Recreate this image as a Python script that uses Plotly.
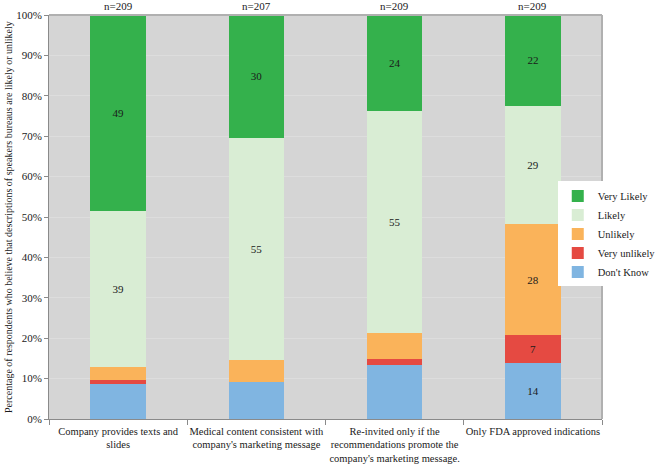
import plotly.graph_objects as go

categories = [
    "Company provides texts and<br>slides",
    "Medical content consistent with<br>company's marketing message",
    "Re-invited only if the<br>recommendations promote the<br>company's marketing message.",
    "Only FDA approved indications",
]
n_labels = ["n=209", "n=207", "n=209", "n=209"]

dont_know = [8.6, 9.2, 13.4, 13.9]
very_unlikely = [1.0, 0.0, 1.5, 6.8]
unlikely = [3.3, 5.4, 6.3, 27.6]
likely = [38.7, 55.0, 55.0, 29.3]
very_likely = [48.4, 30.4, 23.8, 22.4]

dont_know_txt = ["", "", "", "14"]
very_unlikely_txt = ["", "", "", "7"]
unlikely_txt = ["", "", "", "28"]
likely_txt = ["39", "55", "55", "29"]
very_likely_txt = ["49", "30", "24", "22"]

y_title = "Percentage of respondents who believe that descriptions of speakers bureaus are likely or unlikely"

series = [
    ("Don't Know", dont_know, dont_know_txt, "#80b5e1"),
    ("Very unlikely", very_unlikely, very_unlikely_txt, "#e54a42"),
    ("Unlikely", unlikely, unlikely_txt, "#fab35a"),
    ("Likely", likely, likely_txt, "#d9edd4"),
    ("Very Likely", very_likely, very_likely_txt, "#34b14c"),
]

FONT = "Liberation Serif"
TXT = "#1a1a1a"

fig = go.Figure()
for name, vals, txt, col in series:
    fig.add_trace(go.Bar(
        x=categories, y=vals, name=name, text=txt,
        textposition="inside", insidetextanchor="middle",
        textfont=dict(family=FONT, size=11, color=TXT),
        marker=dict(color=col, line=dict(width=0)),
        width=0.4,
        hoverinfo="skip",
    ))

for c, n in zip(categories, n_labels):
    fig.add_annotation(x=c, y=100, text=n, showarrow=False, yanchor="bottom",
                       yshift=1, font=dict(family=FONT, size=11, color=TXT))

fig.add_annotation(xref="paper", yref="paper", x=0, y=0.5, xshift=-41,
                   text=y_title, textangle=-90, showarrow=False,
                   xanchor="center", yanchor="middle",
                   font=dict(family=FONT, size=10, color=TXT))

fig.update_layout(
    width=657, height=465,
    barmode="stack",
    plot_bgcolor="#d5d5d5",
    paper_bgcolor="white",
    margin=dict(l=49, r=55, t=15, b=46, autoexpand=False),
    font=dict(family=FONT, size=11, color=TXT),
    showlegend=True,
    legend=dict(
        traceorder="reversed", x=0.92, xanchor="left", y=0.458, yanchor="middle",
        bgcolor="white", font=dict(family=FONT, size=10.5, color=TXT),
        itemwidth=30, tracegroupgap=0,
    ),
    uniformtext=dict(mode="show", minsize=10),
)
fig.update_yaxes(
    range=[0, 100], tickvals=[0, 10, 20, 30, 40, 50, 60, 70, 80, 90, 100],
    ticktext=["0%", "10%", "20%", "30%", "40%", "50%", "60%", "70%", "80%", "90%", "100%"],
    showgrid=True, gridcolor="#dddddd", gridwidth=1,
    showline=True, linecolor="#8a8a8a", linewidth=1, mirror=False,
    ticks="outside", ticklen=4, tickcolor="#8a8a8a",
    zeroline=False, automargin=False,
    tickfont=dict(family=FONT, size=11, color=TXT),
)
fig.update_xaxes(
    showline=True, linecolor="#8a8a8a", linewidth=1,
    ticks="outside", tickson="boundaries", ticklen=5, tickcolor="#8a8a8a",
    ticklabelstandoff=2,
    tickfont=dict(family=FONT, size=10.5, color=TXT),
    tickangle=0, automargin=False,
    showgrid=False,
)
fig.add_shape(type="line", xref="paper", yref="paper", x0=0, x1=1, y0=1, y1=1,
              line=dict(color="#b0b0b0", width=2))
fig.add_shape(type="line", xref="paper", yref="paper", x0=1, x1=1, y0=0, y1=1,
              line=dict(color="#b0b0b0", width=2))

fig.write_html("out.html", config={"displayModeBar": False},
               post_script="document.body.style.margin='0';")
